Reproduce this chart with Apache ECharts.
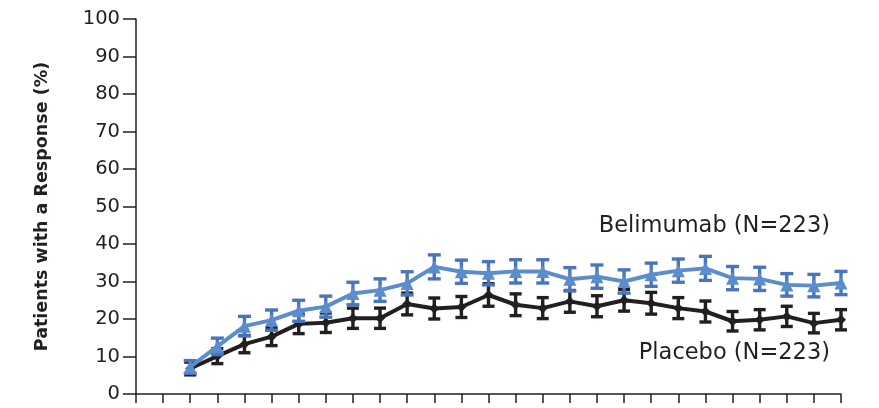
<!DOCTYPE html>
<html>
<head>
<meta charset="utf-8">
<script src="https://cdn.jsdelivr.net/npm/echarts@6/dist/echarts.min.js"></script>
<style>
html,body{margin:0;padding:0;background:#fff;}
#chart{width:879px;height:408px;}
</style>
</head>
<body>
<div id="chart"></div>
<script>
// x positions (tick index on the time axis)
var visits = [2,3,4,5,6,7,8,9,10,11,12,13,14,15,16,17,18,19,20,21,22,23,24,25,26];
var belimumab = [7.2,12.7,18.1,19.7,22.2,23.3,26.8,27.7,29.5,33.9,32.6,32.2,32.7,32.7,30.6,31.3,30.0,31.8,32.9,33.5,30.9,30.7,29.1,28.9,29.6];
var belimumabErr = [1.7,2.2,2.6,2.7,2.8,2.8,3.0,3.0,3.1,3.2,3.1,3.1,3.1,3.1,3.1,3.1,3.1,3.1,3.1,3.2,3.1,3.1,3.0,3.0,3.1];
var placebo = [6.8,10.1,13.3,15.3,18.7,19.0,20.2,20.2,24.0,22.8,23.2,26.4,23.8,22.9,24.7,23.4,25.0,24.2,22.9,22.0,19.4,19.8,20.7,18.9,19.8];
var placeboErr = [1.7,2.0,2.3,2.4,2.6,2.6,2.7,2.7,2.9,2.8,2.8,3.0,2.9,2.8,2.9,2.8,2.9,2.9,2.8,2.8,2.6,2.7,2.7,2.6,2.7];
var yTicks = [0,10,20,30,40,50,60,70,80,90,100];
var yTitle = 'Patients with a Response (%)';
var labelBel = 'Belimumab (N=223)';
var labelPla = 'Placebo (N=223)';

var ink = '#231f20';
var blue = '#5b8ccb';
var blueCap = '#4a74bd';
var font = '"DejaVu Sans"';

function pts(vals){ return visits.map(function(x,i){ return [x, vals[i]]; }); }
function errData(vals, errs){ return visits.map(function(x,i){ return [x, vals[i]-errs[i], vals[i]+errs[i]]; }); }

function errRender(color, capW, lw){
  return function(params, api){
    var x = api.value(0);
    var lo = api.coord([x, api.value(1)]);
    var hi = api.coord([x, api.value(2)]);
    var st = {stroke: color, lineWidth: lw};
    return {type:'group', children:[
      {type:'line', shape:{x1:lo[0],y1:lo[1],x2:hi[0],y2:hi[1]}, style:st},
      {type:'line', shape:{x1:lo[0]-capW/2,y1:lo[1],x2:lo[0]+capW/2,y2:lo[1]}, style:st},
      {type:'line', shape:{x1:hi[0]-capW/2,y1:hi[1],x2:hi[0]+capW/2,y2:hi[1]}, style:st}
    ]};
  };
}

var chart = echarts.init(document.getElementById('chart'), null, {renderer:'canvas'});
chart.setOption({
  animation:false,
  backgroundColor:'#fff',
  grid:{left:136, right:38, top:19, bottom:14, containLabel:false},
  xAxis:{
    type:'value', min:0, max:26, interval:1,
    axisLine:{show:true, lineStyle:{color:ink, width:1.5}},
    axisTick:{show:true, length:9, lineStyle:{color:ink, width:1.5}},
    axisLabel:{show:false},
    splitLine:{show:false}
  },
  yAxis:{
    type:'value', min:yTicks[0], max:yTicks[yTicks.length-1], interval:10,
    name: yTitle, nameLocation:'middle', nameGap:85, nameRotate:90,
    nameTextStyle:{color:ink, fontSize:17.5, fontFamily:'DejaVu Sans', fontWeight:'bold'},
    axisLine:{show:true, lineStyle:{color:ink, width:1.5}},
    axisTick:{show:true, inside:false, length:13, lineStyle:{color:ink, width:1.5}},
    axisLabel:{color:ink, fontSize:19.5, fontFamily:'DejaVu Sans', margin:16},
    splitLine:{show:false}
  },
  graphic:[
    {type:'text', x:830, y:226, style:{text:labelBel, fill:ink, font:'22.5px ' + font, align:'right', verticalAlign:'middle', textAlign:'right', textVerticalAlign:'middle'}},
    {type:'text', x:830, y:353, style:{text:labelPla, fill:ink, font:'22.5px ' + font, align:'right', verticalAlign:'middle', textAlign:'right', textVerticalAlign:'middle'}}
  ],
  series:[
    {type:'custom', renderItem: errRender(ink, 12, 3.4), data: errData(placebo, placeboErr), z:2},
    {type:'line', data: pts(placebo), symbol:'diamond', symbolSize:10, showSymbol:true,
     lineStyle:{color:ink, width:4}, itemStyle:{color:ink}, z:3},
    {type:'custom', renderItem: errRender(blueCap, 13, 3.4), data: errData(belimumab, belimumabErr), z:4},
    {type:'line', data: pts(belimumab), symbol:'triangle', symbolSize:13, showSymbol:true,
     lineStyle:{color:blue, width:4}, itemStyle:{color:blue}, z:5}
  ]
});
</script>
</body>
</html>
